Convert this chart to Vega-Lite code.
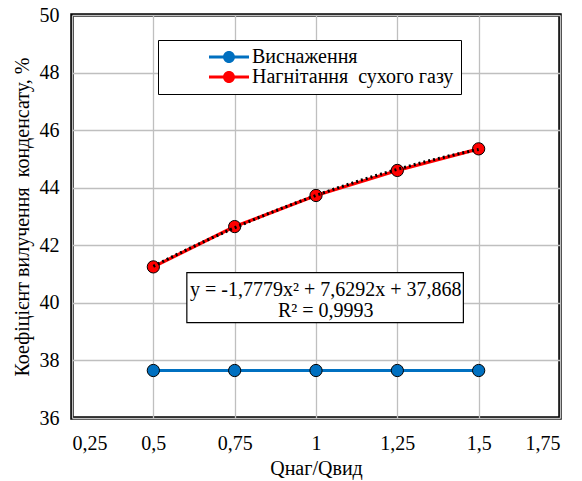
{
  "$schema": "https://vega.github.io/schema/vega-lite/v6.json",
  "width": 488,
  "height": 403,
  "autosize": {"type": "none"},
  "padding": {"left": 72, "top": 15, "right": 22, "bottom": 63},
  "background": "white",
  "config": {
    "view": {"stroke": "black", "strokeWidth": 3.5},
    "font": "Liberation Serif",
    "axis": {
      "labelFont": "Liberation Serif",
      "titleFont": "Liberation Serif",
      "labelFontSize": 20,
      "titleFontSize": 20,
      "titleFontWeight": "normal",
      "labelColor": "black",
      "titleColor": "black",
      "gridColor": "#BFBFBF",
      "gridWidth": 1.3,
      "domain": false,
      "ticks": false
    }
  },
  "datasets": {
    "series": [
      {"q": 0.5, "k": 37.65, "series": "Виснаження"},
      {"q": 0.75, "k": 37.65, "series": "Виснаження"},
      {"q": 1.0, "k": 37.65, "series": "Виснаження"},
      {"q": 1.25, "k": 37.65, "series": "Виснаження"},
      {"q": 1.5, "k": 37.65, "series": "Виснаження"},
      {"q": 0.5, "k": 41.25, "series": "Нагнітання  сухого газу"},
      {"q": 0.75, "k": 42.65, "series": "Нагнітання  сухого газу"},
      {"q": 1.0, "k": 43.73, "series": "Нагнітання  сухого газу"},
      {"q": 1.25, "k": 44.6, "series": "Нагнітання  сухого газу"},
      {"q": 1.5, "k": 45.35, "series": "Нагнітання  сухого газу"}
    ]
  },
  "layer": [
    {
      "data": {"name": "series"},
      "mark": {"type": "line", "strokeWidth": 3.2},
      "encoding": {
        "x": {
          "field": "q", "type": "quantitative",
          "scale": {"domain": [0.25, 1.75], "nice": false, "zero": false},
          "axis": {
            "values": [0.25, 0.5, 0.75, 1, 1.25, 1.5, 1.75],
            "labelExpr": "replace(toString(datum.value), '.', ',')",
            "labelPadding": 15,
            "title": "Qнаг/Qвид",
            "titlePadding": 5
          }
        },
        "y": {
          "field": "k", "type": "quantitative",
          "scale": {"domain": [36, 50], "nice": false, "zero": false},
          "axis": {
            "values": [36, 38, 40, 42, 44, 46, 48, 50],
            "labelPadding": 13,
            "title": "Коефіцієнт вилучення \u00a0конденсату, %",
            "titlePadding": 7
          }
        },
        "color": {
          "field": "series", "type": "nominal",
          "scale": {"domain": ["Виснаження", "Нагнітання  сухого газу"], "range": ["#0070C0", "#FF0000"]},
          "legend": {
            "orient": "none",
            "legendX": 86,
            "legendY": 25,
            "title": null,
            "strokeColor": "black",
            "fillColor": "white",
            "padding": 7,
            "symbolOffset": 54,
            "symbolType": "M-2,-0.15L2,-0.15L2,0.15L-2,0.15Z M0.6,0A0.6,0.6 0 1,1 -0.6,0A0.6,0.6 0 1,1 0.6,0Z",
            "symbolSize": 400,
            "symbolStrokeWidth": 0,
            "labelFont": "Liberation Serif",
            "labelFontSize": 20,
            "labelColor": "black",
            "labelOffset": 13,
            "labelLimit": 400,
            "rowPadding": 0,
            "labelExpr": "replace(datum.label, '  ', ' \u00a0') + '\u00a0\u00a0\u00a0\u00a0\u00a0'"
          }
        }
      }
    },
    {
      "data": {"name": "series"},
      "mark": {"type": "point", "filled": true, "size": 150, "stroke": "black", "strokeWidth": 1, "opacity": 1},
      "encoding": {
        "x": {"field": "q", "type": "quantitative"},
        "y": {"field": "k", "type": "quantitative"},
        "fill": {"field": "series", "type": "nominal", "scale": {"domain": ["Виснаження", "Нагнітання  сухого газу"], "range": ["#0070C0", "#FF0000"]}, "legend": null}
      }
    },
    {
      "data": {"name": "series"},
      "transform": [
        {"filter": "datum.series === 'Нагнітання  сухого газу'"},
        {"regression": "k", "on": "q", "method": "poly", "order": 2}
      ],
      "mark": {"type": "line", "color": "black", "strokeWidth": 3, "strokeDash": [2, 3]},
      "encoding": {
        "x": {"field": "q", "type": "quantitative"},
        "y": {"field": "k", "type": "quantitative"}
      }
    },
    {
      "data": {"values": [{"box": 1}]},
      "mark": {"type": "rect", "fill": "white", "stroke": "black", "strokeWidth": 1.2},
      "encoding": {
        "x": {"datum": 0.603, "type": "quantitative"},
        "x2": {"datum": 1.453},
        "y": {"datum": 41.05, "type": "quantitative"},
        "y2": {"datum": 39.31}
      }
    },
    {
      "data": {"values": [{"eq": "y = -1,7779x² + 7,6292x + 37,868", "r2": "R² = 0,9993"}]},
      "layer": [
        {
          "mark": {"type": "text", "font": "Liberation Serif", "fontSize": 20, "color": "black", "align": "center", "baseline": "middle"},
          "encoding": {
            "x": {"datum": 1.03, "type": "quantitative"},
            "y": {"datum": 40.45, "type": "quantitative"},
            "text": {"field": "eq"}
          }
        },
        {
          "mark": {"type": "text", "font": "Liberation Serif", "fontSize": 20, "color": "black", "align": "center", "baseline": "middle"},
          "encoding": {
            "x": {"datum": 1.03, "type": "quantitative"},
            "y": {"datum": 39.72, "type": "quantitative"},
            "text": {"field": "r2"}
          }
        }
      ]
    }
  ]
}
